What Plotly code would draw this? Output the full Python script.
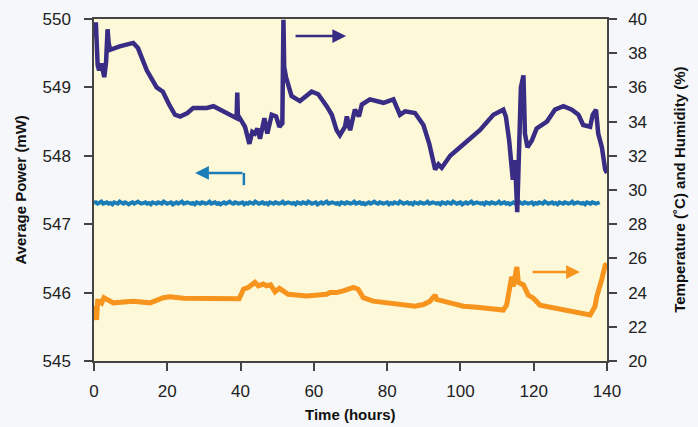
import plotly.graph_objects as go

# ---- data ----
hum_t = [0.0, 0.5, 1.0, 1.4, 2.0, 2.8, 3.3, 3.7, 4.0, 4.4, 7.0, 10.7, 12.0, 14.4, 17.1, 18.8, 20.5, 22.1, 23.5, 25.5,
         27.1, 30.8, 32.6, 34.4, 36.0, 38.0, 38.9, 39.1, 39.3, 39.8, 41.2, 42.4, 43.2, 43.9, 44.6, 45.3, 46.5, 47.3, 48.5, 49.7,
         50.6, 51.4, 51.7, 51.9, 52.4, 53.9, 56.2, 59.4, 61.2, 63.5, 64.9, 66.2, 67.1, 68.5, 69.0, 69.9, 71.2, 72.3, 73.1, 75.3,
         79.0, 81.7, 83.5, 84.9, 87.6, 89.9, 91.5, 93.1, 94.0, 94.9, 97.2, 99.9, 102.6, 105.3, 109.0, 111.7, 112.4, 113.3, 114.3, 114.9,
         115.5, 116.0, 116.5, 117.2, 117.6, 118.3, 119.5, 120.8, 123.6, 125.8, 128.1, 130.4, 132.2, 133.5, 135.4, 136.1, 137.0, 137.6, 138.6, 139.5,
         140.0]
hum_v = [38.9, 39.8, 37.3, 37.0, 37.4, 36.6, 37.5, 39.4, 38.6, 38.2, 38.4, 38.6, 38.3, 37.0, 36.0, 35.75, 35.0, 34.4, 34.3, 34.5,
         34.8, 34.8, 34.9, 34.7, 34.5, 34.3, 34.2, 35.7, 34.1, 34.2, 33.7, 32.7, 33.4, 33.3, 33.6, 33.0, 34.2, 33.3, 34.4, 34.3,
         33.7, 33.9, 39.95, 37.2, 36.6, 35.5, 35.2, 35.75, 35.6, 34.9, 34.4, 33.5, 33.2, 33.7, 34.3, 33.5, 34.7, 34.3, 35.0, 35.3,
         35.1, 35.3, 34.4, 34.6, 34.5, 33.8, 32.7, 31.2, 31.5, 31.3, 32.0, 32.5, 33.0, 33.5, 34.4, 34.7, 34.3, 32.9, 30.6, 31.75,
         28.7, 33.0, 36.0, 36.7, 33.3, 32.5, 32.9, 33.6, 34.0, 34.7, 34.9, 34.7, 34.4, 33.8, 33.7, 34.4, 34.7, 33.3, 32.5, 31.2,
         31.0]

temp_t = [0.0, 0.35, 0.7, 1.0, 1.6, 2.1, 2.7, 3.6, 5.3, 10.7, 15.3, 18.9, 20.7, 24.4, 28.9, 37.0, 39.6, 40.8, 42.1, 43.9,
          44.8, 46.2, 47.1, 48.2, 49.4, 50.6, 51.7, 53.0, 58.0, 63.5, 64.4, 66.2, 68.0, 70.8, 72.1, 73.5, 76.2, 82.6, 87.6, 89.9,
          91.7, 93.1, 93.5, 97.2, 100.8, 104.5, 111.7, 112.6, 113.3, 114.0, 114.4, 114.9, 115.4, 115.8, 116.5, 117.2, 118.5, 119.9, 121.7, 124.5,
          128.9, 132.6, 135.4, 136.7, 137.2, 138.6, 139.5, 140.0]
temp_v = [23.0, 23.2, 22.4, 23.5, 23.5, 23.4, 23.7, 23.6, 23.4, 23.5, 23.4, 23.7, 23.76, 23.67, 23.67, 23.67, 23.64, 24.2, 24.3, 24.6,
          24.4, 24.5, 24.4, 24.45, 24.05, 24.25, 24.05, 23.9, 23.8, 23.9, 24.0, 24.0, 24.1, 24.3, 24.2, 23.7, 23.5, 23.33, 23.2, 23.3,
          23.5, 23.86, 23.6, 23.4, 23.2, 23.14, 22.98, 23.27, 24.25, 24.93, 24.35, 25.13, 25.5, 24.6, 24.5, 24.45, 23.86, 23.67, 23.27, 23.14,
          22.98, 22.79, 22.69, 23.18, 23.76, 24.8, 25.6, 25.67]

# power read every half hour (noisy, ~547.31 mW)
power_v = [
    547.31, 547.32, 547.30, 547.31, 547.33, 547.30, 547.31, 547.32, 547.30, 547.31, 547.29, 547.32, 547.31, 547.30, 547.33, 547.31,
    547.30, 547.32, 547.31, 547.29, 547.31, 547.32, 547.30, 547.31, 547.33, 547.31, 547.30, 547.31, 547.32, 547.30, 547.31, 547.29,
    547.32, 547.31, 547.30, 547.32, 547.31, 547.30, 547.33, 547.31, 547.30, 547.31, 547.32, 547.29, 547.31, 547.32, 547.30, 547.31,
    547.33, 547.30, 547.31, 547.32, 547.31, 547.30, 547.31, 547.29, 547.32, 547.31, 547.30, 547.32, 547.31, 547.30, 547.31, 547.33,
    547.30, 547.31, 547.32, 547.30, 547.31, 547.29, 547.31, 547.32, 547.30, 547.31, 547.33, 547.31, 547.30, 547.32, 547.31, 547.30,
    547.31, 547.32, 547.29, 547.31, 547.30, 547.32, 547.31, 547.30, 547.33, 547.31, 547.30, 547.31, 547.32, 547.30, 547.31, 547.29,
    547.32, 547.31, 547.30, 547.32, 547.31, 547.30, 547.31, 547.33, 547.30, 547.31, 547.32, 547.31, 547.30, 547.31, 547.29, 547.32,
    547.31, 547.30, 547.32, 547.31, 547.30, 547.33, 547.31, 547.30, 547.31, 547.32, 547.29, 547.31, 547.32, 547.30, 547.31, 547.33,
    547.30, 547.31, 547.32, 547.31, 547.30, 547.31, 547.29, 547.32, 547.31, 547.30, 547.32, 547.31, 547.30, 547.31, 547.33, 547.30,
    547.31, 547.32, 547.30, 547.31, 547.29, 547.31, 547.32, 547.30, 547.31, 547.33, 547.31, 547.30, 547.32, 547.31, 547.30, 547.31,
    547.32, 547.29, 547.31, 547.30, 547.32, 547.31, 547.30, 547.33, 547.31, 547.30, 547.31, 547.32, 547.30, 547.31, 547.29, 547.32,
    547.31, 547.30, 547.32, 547.31, 547.30, 547.31, 547.33, 547.30, 547.31, 547.32, 547.31, 547.30, 547.31, 547.29, 547.32, 547.31,
    547.30, 547.32, 547.31, 547.30, 547.33, 547.31, 547.30, 547.31, 547.32, 547.29, 547.31, 547.32, 547.30, 547.31, 547.33, 547.30,
    547.31, 547.32, 547.31, 547.30, 547.31, 547.29, 547.32, 547.31, 547.30, 547.32, 547.31, 547.30, 547.31, 547.33, 547.30, 547.31,
    547.32, 547.30, 547.31, 547.29, 547.31, 547.32, 547.30, 547.31, 547.33, 547.31, 547.30, 547.32, 547.31, 547.30, 547.31, 547.32,
    547.29, 547.31, 547.30, 547.32, 547.31, 547.30, 547.33, 547.31, 547.30, 547.31, 547.32, 547.30, 547.31, 547.29, 547.32, 547.31,
    547.30, 547.32, 547.31, 547.30, 547.31, 547.33, 547.30, 547.31, 547.32, 547.31, 547.30, 547.31, 547.29, 547.32, 547.31, 547.30,
    547.32, 547.31, 547.30, 547.31, 547.32,
]
power_t = [i * 0.5 for i in range(len(power_v))]

assert len(hum_t) == len(hum_v)
assert len(temp_t) == len(temp_v)

x_ticks = [0, 20, 40, 60, 80, 100, 120, 140]
y_ticks = [545, 546, 547, 548, 549, 550]
y2_ticks = [20, 22, 24, 26, 28, 30, 32, 34, 36, 38, 40]

PURPLE = "#382c85"
ORANGE = "#f7941d"
BLUE = "#1b7db8"
FONT = "Liberation Sans Narrow, Liberation Sans, Arial, sans-serif"

fig = go.Figure()
fig.add_trace(go.Scatter(x=power_t, y=power_v, mode="lines", line=dict(color=BLUE, width=4), yaxis="y"))
fig.add_trace(go.Scatter(x=temp_t, y=temp_v, mode="lines", line=dict(color=ORANGE, width=5), yaxis="y2"))
fig.add_trace(go.Scatter(x=hum_t, y=hum_v, mode="lines", line=dict(color=PURPLE, width=4.5), yaxis="y2"))

axis_common = dict(showgrid=False, zeroline=False, showline=True, linecolor="#444", linewidth=1.5,
                   ticks="outside", ticklen=8, tickwidth=1.5, tickcolor="#444", automargin=False,
                   tickfont=dict(family=FONT, size=17, color="#222"))

fig.update_layout(
    width=698, height=427, autosize=False,
    margin=dict(l=94, r=91, t=19, b=66),
    paper_bgcolor="#f5f7fa",
    plot_bgcolor="#fdf8d8",
    showlegend=False,
    xaxis=dict(range=[0, 140], tickvals=x_ticks, mirror=True, ticklabelstandoff=6, **axis_common),
    yaxis=dict(range=[545, 550], tickvals=y_ticks, ticklabelstandoff=10, **axis_common),
    yaxis2=dict(range=[20, 40], tickvals=y2_ticks, overlaying="y", side="right", ticklabelstandoff=8, **axis_common),
)

title_font = dict(family=FONT, size=15, color="#111")
fig.add_annotation(text="<b>Average Power (mW)</b>", xref="paper", yref="paper", x=-0.145, y=0.5,
                   textangle=-90, showarrow=False, font=title_font, xanchor="center", yanchor="middle")
fig.add_annotation(text="<b>Temperature (˚C) and Humidity (%)</b>", xref="paper", yref="paper", x=1.14, y=0.5,
                   textangle=-90, showarrow=False, font=title_font, xanchor="center", yanchor="middle")
fig.add_annotation(text="<b>Time (hours)</b>", xref="paper", yref="paper", x=0.5, y=-0.155,
                   showarrow=False, font=title_font, xanchor="center", yanchor="middle")

# direction arrows
fig.add_shape(type="line", xref="x", yref="y", x0=40.9, y0=547.57, x1=40.9, y1=547.75,
              line=dict(color=BLUE, width=2.5))
fig.add_annotation(xref="x", yref="y", axref="x", ayref="y", x=27.6, y=547.75, ax=40.9, ay=547.75,
                   showarrow=True, arrowhead=2, arrowsize=1.1, arrowwidth=2.5, arrowcolor=BLUE, text="")
fig.add_annotation(xref="x", yref="y2", axref="x", ayref="y2", x=68.8, y=39.0, ax=54.6, ay=39.0,
                   showarrow=True, arrowhead=2, arrowsize=1.1, arrowwidth=2.5, arrowcolor=PURPLE, text="")
fig.add_annotation(xref="x", yref="y2", axref="x", ayref="y2", x=132.6, y=25.2, ax=119.3, ay=25.2,
                   showarrow=True, arrowhead=2, arrowsize=1.1, arrowwidth=2.5, arrowcolor=ORANGE, text="")

fig.write_html("out.html", config={"displayModeBar": False},
               post_script="document.body.style.margin='0';document.body.style.overflow='hidden';")
